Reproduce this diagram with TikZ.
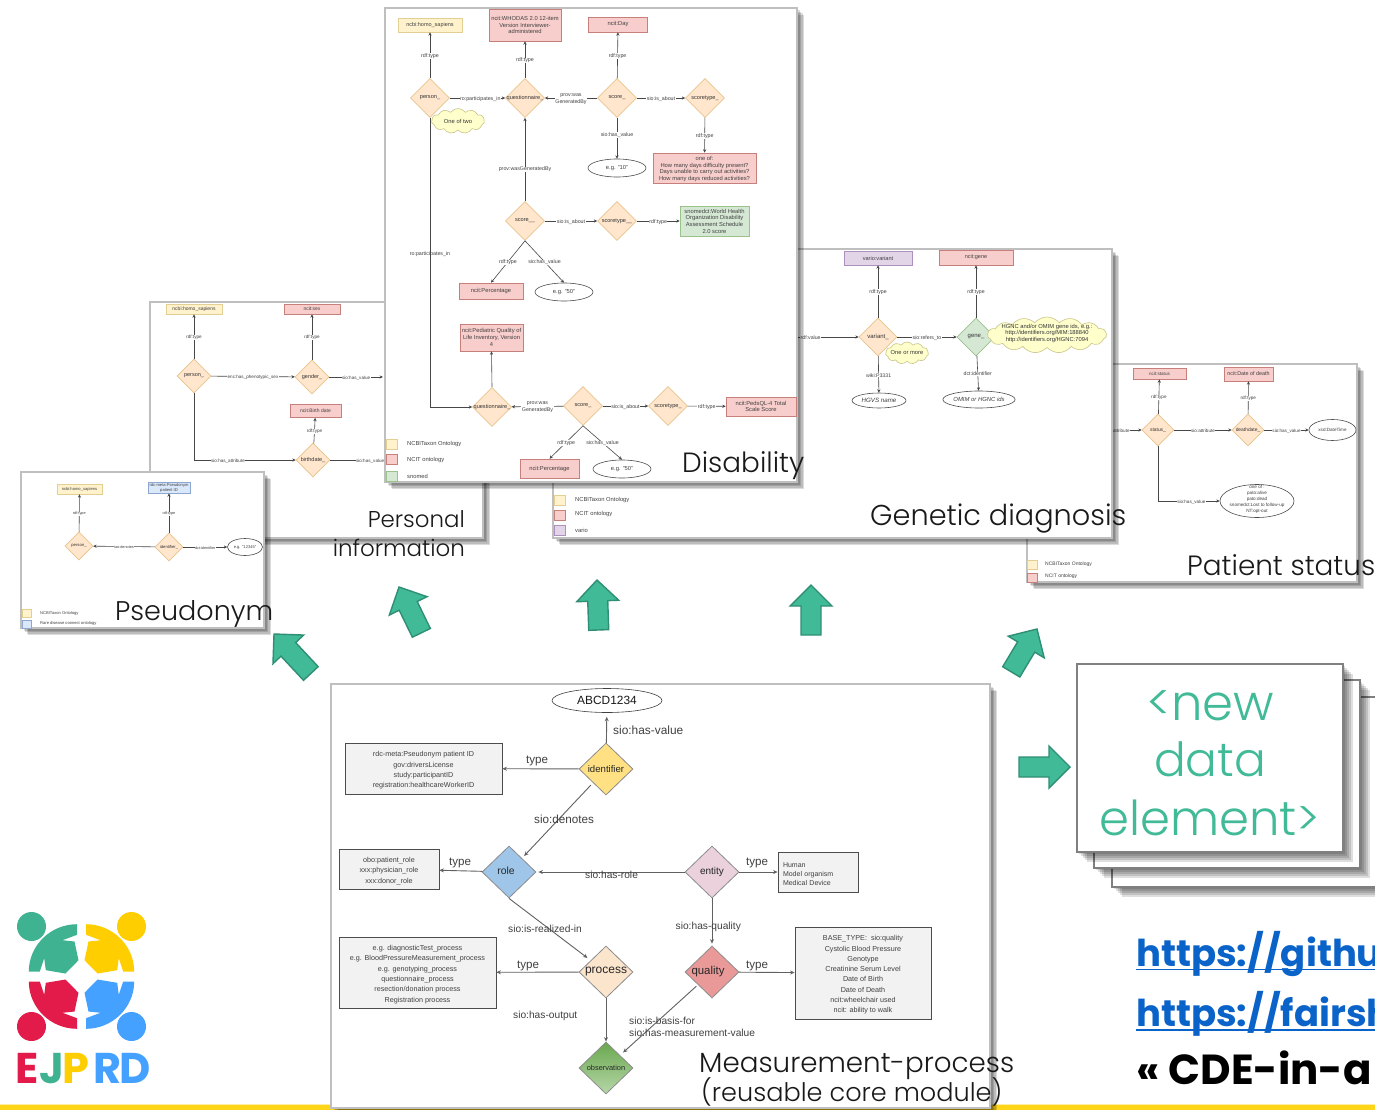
\documentclass[tikz,border=0pt]{standalone}
\usepackage{fontspec}
\usepackage{graphicx}
\setmainfont{Liberation Sans}
\newfontfamily\gothic{Poppins}[UprightFont=* Light,BoldFont=* Bold]
\usetikzlibrary{arrows.meta,shapes.geometric,shapes.symbols}
\definecolor{yfill}{HTML}{FFF2CC}\definecolor{ydraw}{HTML}{E3CF92}
\definecolor{rfill}{HTML}{F8CECC}\definecolor{rdraw}{HTML}{C77F7C}
\definecolor{gfill}{HTML}{D5E8D4}\definecolor{gdraw}{HTML}{9CC28C}
\definecolor{bfill}{HTML}{DAE8FC}\definecolor{bdraw}{HTML}{8CA8D0}
\definecolor{pfill}{HTML}{E1D5E7}\definecolor{pdraw}{HTML}{AE90BC}
\definecolor{dfill}{HTML}{FFE6CC}\definecolor{ddraw}{HTML}{E8C48E}
\definecolor{cfill}{HTML}{FFFFCC}\definecolor{cdraw}{HTML}{C9C48A}
\definecolor{panelb}{HTML}{BFBFBF}
\definecolor{teal}{HTML}{41BA97}\definecolor{tealb}{HTML}{2F8F75}
\definecolor{lgreen}{HTML}{3FB391}\definecolor{lyellow}{HTML}{FFCE00}
\definecolor{lred}{HTML}{E21B4A}\definecolor{lblue}{HTML}{45A1FF}
\definecolor{urlblue}{HTML}{0A63C9}
\definecolor{barY}{HTML}{FFD51A}
\newcommand\fsz[2]{\fontsize{#1}{#2}\selectfont}
\newcommand\zb[1]{\makebox[0pt]{\raisebox{-.8pt}{#1}}}
\newcommand\zc[1]{\smash{\makebox[0pt]{\begin{tabular}{@{}c@{}}#1\end{tabular}}}}
\newcommand\tp{\rule{0pt}{9pt}}
\newcount\lc
% connector with an edge label
\newcommand\lk[4]{\global\advance\lc 1 \draw[link] (#1) -- node[lbl,pos=#3,name=lab\the\lc]{#4} (#2);}
\newcommand\panel[4]{%
  \foreach \o in {7,5.5,4,2.5}{\fill[black,opacity=.14] (#1+\o,#2+\o) rectangle (#3+\o,#4+\o);}
  \fill[white] (#1,#2) rectangle (#3,#4);
  \draw[panelb,line width=2.4pt] (#1,#2) rectangle (#3,#4);}
\newcommand\card[4]{%
  \foreach \o in {10,8,6,4,2}{\fill[black,opacity=.13] (#1+\o,#2+\o) rectangle (#3+\o,#4+\o);}
  \fill[white] (#1,#2) rectangle (#3,#4);
  \draw[gray,line width=2pt] (#1,#2) rectangle (#3,#4);}
\newcommand\barrow[4]{\begin{scope}[shift={(#1,#2)},rotate=#3]
  \draw[blockarrow] (0,0)--(21,-21)--(21,-10)--(#4,-10)--(#4,10)--(21,10)--(21,21)--cycle;\end{scope}}
\tikzset{
  link/.style={draw=black!72,line width=.6pt,-{Stealth[length=3.4pt,width=3.2pt]}},
  mlink/.style={draw=black!62,line width=.9pt,shorten >=2pt,-{Stealth[length=4.5pt,width=4pt]}},
  lbl/.style={fill=white,inner sep=.4pt,text=black!75,align=center,yshift=-.8pt},
  lbln/.style={inner sep=.4pt,text=black!75,align=center},
  bbx/.style={rectangle,inner sep=0pt,align=center,text=black!75,line width=.6pt},
  ybox/.style={bbx,draw=ydraw,fill=yfill},
  rbox/.style={bbx,draw=rdraw,fill=rfill},
  gbox/.style={bbx,draw=gdraw,fill=gfill},
  bbox/.style={bbx,draw=bdraw,fill=bfill},
  pbox/.style={bbx,draw=pdraw,fill=pfill},
  dia/.style={diamond,aspect=1,inner sep=0pt,draw=ddraw,fill=dfill,line width=.6pt,text=black!80},
  val/.style={ellipse,inner sep=0pt,draw=black!70,fill=white,line width=.6pt,text=black!75,align=center},
  puff/.style={cloud,cloud puffs=11,cloud puff arc=110,aspect=2,inner sep=0pt,draw=cdraw,fill=cfill,line width=.6pt,text=black!80},
  leg/.style={anchor=west,inner sep=0pt,text=black!75},
  boxfont/.style={ybox/.append style={font=#1},rbox/.append style={font=#1},gbox/.append style={font=#1},bbox/.append style={font=#1},pbox/.append style={font=#1},val/.append style={font=#1},puff/.append style={font=#1},leg/.append style={font=#1}},
  diafont/.style={dia/.append style={font=#1}},
  blockarrow/.style={fill=teal,draw=tealb,line width=1.4pt,line join=miter},
  ttl/.style={anchor=base west,inner sep=0pt,font=\gothic,text=black!90},
  mbox/.style={rectangle,inner sep=0pt,draw=black!70,fill=black!5,line width=.8pt,align=center,text=black!75,font=\fsz{7.2}{10.3}},
  mdia/.style={diamond,aspect=1,inner sep=0pt,draw=black!45,line width=.8pt,minimum width=54pt,minimum height=52pt,text=black!85},
  mlab/.style={inner sep=0pt,text=black!75,font=\fsz{10.2}{12.2}},
  mtype/.style={mlab,font=\fsz{11.6}{13}},
  logotext/.style={anchor=base,inner sep=0pt,font=\gothic\bfseries\fsz{43}{43}},
}
\begin{document}
\begin{tikzpicture}[x=1pt,y=-1pt]
\useasboundingbox (0,0) rectangle (1375,1110);
\clip (0,0) rectangle (1375,1110);
\fill[white] (0,0) rectangle (1375,1110);
% bottom bar
\fill[barY] (0,1105) rectangle (1375,1110);
\fill[barY!40] (0,1103.8) rectangle (1375,1105);
% logo
\foreach \sx/\sy/\c in {1/1/lgreen,-1/1/lyellow,1/-1/lred,-1/-1/lblue}{
\begin{scope}[shift={(81.5,976.5)},xscale=\sx,yscale=\sy]
  \fill[\c] (-4.5,-52.3) .. controls (-31,-52.3) and (-52.7,-31) .. (-52.7,-5) -- (-41.7,-5) -- (-37.3,-18.3) -- (-35.7,-6.3) -- (-16,-3) -- (-3,-16.3) -- (-7,-35) -- (-19,-36.3) -- (-4.5,-41.7) -- cycle;
  \fill[\c] (-50,-50) circle (14.5pt);
\end{scope}}
\node[logotext,text=lred] (lgE) at (27,1083) {E};
\node[logotext,text=lgreen] (lgJ) at (51.5,1083) {J};
\node[logotext,text=lyellow] (lgP) at (75.5,1083) {P};
\node[logotext,text=lblue] (lgR) at (108,1083) {R};
\node[logotext,text=lblue] (lgD) at (135,1083) {D};

%%%%%%% Patient status
\panel{1027}{364}{1357}{582}
\begin{scope}[font=\fsz{4.6}{6},boxfont={\fsz{4.6}{6}},diafont={\fsz{4.9}{6}}]
\node[rbox,minimum width=53pt,minimum height=11pt] (stS) at (1159.5,373.5) {ncit:status};
\node[rbox,minimum width=49pt,minimum height=14pt,font=\fsz{5.4}{6}] (stD) at (1248.5,374) {ncit:Date of death};
\node[dia,minimum width=32pt,minimum height=32pt] (st) at (1158,430) {\zb{status\_}};
\node[dia,minimum width=32pt,minimum height=32pt] (dd) at (1248,430) {\zb{deathdate\_}};
\node[val,minimum width=47pt,minimum height=21pt] (xsd) at (1332.5,430) {xsd:DateTime};
\node[val,minimum width=74pt,minimum height=33pt] (oneof) at (1257,501) {\zc{one of :\\pato:alive\\pato:dead\\snomedct:Lost to follow-up\\NT:opt-out}};
\coordinate (stIn) at (1090,430);
\lk{stIn}{st}{.44}{sio:has\_attribute}
\lk{st}{stS}{.5}{rdf:type}
\lk{dd}{stD}{.5}{rdf:type}
\lk{st}{dd}{.5}{sio:attribute}
\lk{dd}{xsd}{.5}{sio:has\_value}
\draw[link] (st.south) |- node[lbl,pos=.77,name=stv]{sio:has\_value} (oneof.west);
\node[ybox,minimum width=10pt,minimum height=9pt] (stL1) at (1032,564.5) {};
\node[rbox,minimum width=10pt,minimum height=9pt] (stL2) at (1032,577.5) {};
\node[leg,font=\fsz{5}{6}] (stT1) at (1045,564) {NCBITaxon Ontology};
\node[leg,font=\fsz{5}{6}] (stT2) at (1045,576) {NCIT ontology};
\end{scope}
\node[ttl] (tPat) at (1187,575) {\resizebox{188pt}{!}{Patient status}};

%%%%%%% Genetic diagnosis
\panel{553}{249}{1112}{538}
\begin{scope}[font=\fsz{5.2}{6.6},boxfont={\fsz{5.8}{6.8}},diafont={\fsz{6}{7}}]
\node[pbox,minimum width=68pt,minimum height=14pt,font=\fsz{5.6}{7}] (gV) at (878,258) {vario:variant};
\node[rbox,minimum width=74pt,minimum height=15pt,font=\fsz{5.5}{7}] (gG) at (976,257.5) {ncit:gene};
\node[dia,minimum width=38pt,minimum height=38pt] (var) at (878,337) {\zb{variant\_}};
\node[dia,draw=gdraw,fill=gfill,minimum width=38pt,minimum height=38pt] (gene) at (976,337) {\zb{gene\_}};
\node[val,minimum width=54pt,minimum height=15pt,font=\fsz{6.2}{7}\itshape] (hgvs) at (879,400.5) {HGVS name};
\node[val,minimum width=54pt,minimum height=17pt,font=\fsz{5.9}{7}\itshape] (omim) at (979,399.5) {OMIM or HGNC ids};
\coordinate (gIn) at (790,337);
\lk{gIn}{var}{.3}{rdf:value}
\lk{var}{gV}{.5}{rdf:type}
\lk{gene}{gG}{.5}{rdf:type}
\lk{var}{gene}{.5}{sio:refers\_to}
\lk{var}{hgvs}{.5}{wiki:P3331}
\lk{gene}{omim}{.5}{dct:identifier}
\node[puff,minimum width=43pt,minimum height=22pt] (gC1) at (907,353) {\zb{One or more}};
\node[puff,cloud puffs=15,cloud puff arc=100,aspect=3.3,minimum width=119pt,minimum height=36pt] (gC2) at (1047,335) {\zc{HGNC and/or OMIM gene ids, e.g.:\\http://identifiers.org/MIM:188840\\http://identifiers.org/HGNC:7094}};
\node[ybox,minimum width=11pt,minimum height=10pt] (gL1) at (560,500) {};
\node[rbox,minimum width=11pt,minimum height=10pt] (gL2) at (560,515) {};
\node[pbox,minimum width=11pt,minimum height=10pt] (gL3) at (560,530) {};
\node[leg] (gT1) at (575,500) {NCBITaxon Ontology};
\node[leg] (gT2) at (575,514) {NCIT ontology};
\node[leg] (gT3) at (575,530) {vario};
\end{scope}
\node[ttl] (tGen) at (870,525) {\resizebox{256pt}{!}{Genetic diagnosis}};

%%%%%%% Personal information
\panel{150}{302}{483}{538}
\begin{scope}[font=\fsz{4.6}{6},boxfont={\fsz{5}{6}},diafont={\fsz{5.5}{6.5}}]
\node[ybox,minimum width=56pt,minimum height=10pt] (peN) at (194,309) {ncbi:homo\_sapiens};
\node[rbox,minimum width=56pt,minimum height=10pt] (peS) at (312,309) {ncit:sex};
\node[rbox,minimum width=51pt,minimum height=13pt] (peB) at (315.5,411) {ncit:Birth date};
\node[dia,minimum width=34pt,minimum height=34pt] (pep) at (194,376) {\zb{person\_}};
\node[dia,minimum width=34pt,minimum height=34pt] (peg) at (312,377) {\zb{gender\_}};
\node[dia,minimum width=34pt,minimum height=34pt] (peb) at (313,460) {\zb{birthdate\_}};
\coordinate (peGo) at (383,377);
\coordinate (peBo) at (410,460);
\lk{pep}{peN}{.5}{rdf:type}
\lk{peg}{peS}{.5}{rdf:type}
\lk{peb}{peB}{.5}{rdf:type}
\lk{pep}{peg}{.5}{enc:has\_phenotypic\_sex}
\lk{peg}{peGo}{.5}{sio:has\_value}
\lk{peb}{peBo}{.5}{sio:has\_value}
\draw[link] (pep.south) |- node[lbl,pos=.667,name=pev]{sio:has\_attribute} (peb.west);
\end{scope}
\node[ttl,anchor=base east] (tPer1) at (465,527) {\resizebox{97pt}{!}{Personal}};
\node[ttl,anchor=base east] (tPer2) at (465,556) {\resizebox{132pt}{!}{information}};

%%%%%%% Disability
\panel{385}{8}{797}{482}
\begin{scope}[font=\fsz{5.3}{6.7},boxfont={\fsz{5.8}{6.7}},diafont={\fsz{5.6}{6.7}}]
\node[ybox,minimum width=64pt,minimum height=14pt,font=\fsz{5.5}{6.7}] (dN) at (430,25) {ncbi:homo\_sapiens};
\node[rbox,minimum width=72pt,minimum height=32pt] (dW) at (525,25) {ncit:WHODAS 2.0 12-item\\Version Interviewer-\\administered};
\node[rbox,minimum width=59pt,minimum height=15pt] (dD) at (618,24.5) {ncit:Day};
\node[dia,minimum width=39pt,minimum height=39pt] (dp) at (430,98) {\zb{person\_}};
\node[dia,minimum width=39pt,minimum height=39pt] (dq) at (525,98) {\zb{questionnaire\_}};
\node[dia,minimum width=39pt,minimum height=39pt] (ds) at (617,98) {\zb{score\_}};
\node[dia,minimum width=39pt,minimum height=39pt] (dt) at (705,98) {\zb{scoretype\_}};
\node[val,minimum width=58pt,minimum height=18pt] (dv10) at (617,168) {e.g. "10"};
\node[rbox,minimum width=103pt,minimum height=30pt] (dOne) at (704.5,168) {\rule{0pt}{6.2pt}one of:\\How many days difficulty present?\\Days unable to carry out activities?\\How many days reduced activities?};
\node[dia,minimum width=39pt,minimum height=39pt] (ds2) at (525,221) {\zb{score\_\_}};
\node[dia,minimum width=39pt,minimum height=39pt] (dt2) at (617,221) {\zb{scoretype\_\_}};
\node[gbox,minimum width=69pt,minimum height=30pt] (dSn) at (714.5,221) {snomedct:World Health\\Organization Disability\\Assessment Schedule\\2.0 score};
\node[rbox,minimum width=64pt,minimum height=16pt] (dP1) at (491,291) {ncit:Percentage};
\node[val,minimum width=58pt,minimum height=18pt] (dv50) at (564,292) {e.g. "50"};
\node[rbox,minimum width=63pt,minimum height=27pt] (dPed) at (491.5,337.5) {ncit:Pediatric Quality of\\Life Inventory, Version\\4};
\node[dia,minimum width=39pt,minimum height=39pt] (dq2) at (492,407) {\zb{questionnaire\_}};
\node[dia,minimum width=39pt,minimum height=39pt] (ds3) at (583,406) {\zb{score\_}};
\node[dia,minimum width=39pt,minimum height=39pt] (dt3) at (668,406) {\zb{scoretype\_}};
\node[rbox,minimum width=70pt,minimum height=19pt] (dPeds) at (761,406.5) {ncit:PedsQL-4 Total\\Scale Score};
\node[rbox,minimum width=59pt,minimum height=19pt] (dP2) at (549.5,468.5) {ncit:Percentage};
\node[val,minimum width=58pt,minimum height=18pt] (dv50b) at (622,469) {e.g. "50"};
\lk{dp}{dN}{.5}{rdf:type}
\lk{dq}{dW}{.5}{rdf:type}
\lk{ds}{dD}{.5}{rdf:type}
\lk{dp}{dq}{.55}{ro:participates\_in}
\lk{ds}{dq}{.5}{prov:was\\GeneratedBy}
\lk{ds}{dt}{.5}{sio:is\_about}
\lk{ds}{dv10}{.4}{sio:has\_value}
\lk{dt}{dOne}{.5}{rdf:type}
\lk{ds2}{dq}{.39}{prov:wasGeneratedBy}
\lk{ds2}{dt2}{.5}{sio:is\_about}
\lk{dt2}{dSn}{.5}{rdf:type}
\lk{ds2.south}{dP1.north}{.5}{rdf:type}
\lk{ds2.south}{dv50.north}{.5}{sio:has\_value}
\draw[link] (dq2.north) -- (dPed.south);
\lk{ds3}{dq2}{.5}{prov:was\\GeneratedBy}
\lk{ds3}{dt3}{.5}{sio:is\_about}
\lk{dt3}{dPeds}{.5}{rdf:type}
\lk{ds3.south}{dP2.north}{.5}{rdf:type}
\lk{ds3.south}{dv50b.north}{.5}{sio:has\_value}
\draw[link] (dp.south) |- node[lbln,pos=.236,name=dpart]{ro:participates\_in} (dq2.west);
\node[puff,minimum width=53pt,minimum height=25pt] (dC) at (458,121) {\zb{One of two}};
\node[ybox,minimum width=11pt,minimum height=10pt] (dL1) at (392,444) {};
\node[rbox,minimum width=11pt,minimum height=10pt] (dL2) at (392,459.5) {};
\node[gbox,minimum width=11pt,minimum height=10pt] (dL3) at (392,476) {};
\node[leg] (dT1) at (407,444) {NCBITaxon Ontology};
\node[leg] (dT2) at (407,460) {NCIT ontology};
\node[leg] (dT3) at (407,476) {snomed};
\end{scope}
\node[ttl] (tDis) at (682,472) {\resizebox{122pt}{!}{Disability}};

%%%%%%% Pseudonym
\panel{21}{472}{264}{628}
\begin{scope}[font=\fsz{3.8}{4.9},boxfont={\fsz{4.1}{4.9}},diafont={\fsz{4.2}{5}}]
\node[ybox,minimum width=45pt,minimum height=10pt] (psN) at (79.5,489) {ncbi:homo\_sapiens};
\node[bbox,minimum width=42pt,minimum height=11pt] (psR) at (169,487.5) {rdc-meta:Pseudonym\\patient ID};
\node[dia,minimum width=28pt,minimum height=28pt] (psp) at (79,546) {\zb{person\_}};
\node[dia,minimum width=28pt,minimum height=28pt] (psi) at (169,547) {\zb{identifier\_}};
\node[val,minimum width=35pt,minimum height=17pt] (psv) at (245,547) {e.g. "12345"};
\lk{psp}{psN}{.5}{rdf:type}
\lk{psi}{psR}{.5}{rdf:type}
\lk{psi}{psp}{.5}{iao:denotes}
\lk{psi}{psv}{.5}{dct:identifier}
\node[ybox,minimum width=9pt,minimum height=8pt] (psL1) at (26.5,613) {};
\node[bbox,minimum width=9pt,minimum height=8pt] (psL2) at (26.5,624) {};
\node[leg] (psT1) at (40,613) {NCBITaxon Ontology};
\node[leg] (psT2) at (40,623) {Rare disease connect ontology};
\end{scope}
\node[ttl] (tPse) at (115,620) {\resizebox{158pt}{!}{Pseudonym}};

%%%%%%% block arrows
\barrow{274}{634}{-47}{54}
\barrow{399}{587}{-64}{51}
\barrow{597}{580}{-88}{50}
\barrow{811}{585}{-90}{50}
\barrow{1037}{629}{-121}{50}
\barrow{1070}{767}{180}{51}

%%%%%%% Measurement process
\panel{331}{684}{990}{1108}
\node[val,draw=black!75,minimum width=110pt,minimum height=24pt,font=\fsz{11.9}{13},text=black!90] (mAb) at (607,700.5) {ABCD1234};
\node[mdia,fill={rgb,255:red,255;green,224;blue,130},font=\fsz{9.6}{11}] (mId) at (606,769) {\zb{identifier}};
\node[mdia,fill={rgb,255:red,159;green,197;blue,232},font=\fsz{10.4}{12}] (mRo) at (509,872) {\zb{\raisebox{2pt}{role}\hspace{6pt}}};
\node[mdia,fill={rgb,255:red,252;green,229;blue,205},font=\fsz{12}{14}] (mPr) at (606,972) {\zb{process}};
\node[mdia,top color={rgb,255:red,106;green,168;blue,79},bottom color={rgb,255:red,182;green,215;blue,168},font=\fsz{7.4}{9}] (mOb) at (606,1068) {\zb{observation}};
\node[mdia,fill={rgb,255:red,234;green,209;blue,220},font=\fsz{10}{12}] (mEn) at (712,872) {\zb{entity}};
\node[mdia,fill={rgb,255:red,234;green,153;blue,153},font=\fsz{11.4}{13}] (mQu) at (712,972) {\zb{\hspace{-8pt}quality}};
\node[mbox,minimum width=157pt,minimum height=51pt] (mB1) at (423.5,768.5) {\tp rdc-meta:Pseudonym patient ID\\gov:driversLicense\\study:participantID\\registration:healthcareWorkerID};
\node[mbox,minimum width=100pt,minimum height=40pt] (mB2) at (389,869) {\tp obo:patient\_role\\xxx:physician\_role\\xxx:donor\_role};
\node[mbox,minimum width=157pt,minimum height=71pt] (mB3) at (417.5,972.5) {\tp e.g. diagnosticTest\_process\\e.g. BloodPressureMeasurement\_process\\e.g. genotyping\_process\\questionnaire\_process\\resection/donation process\\Registration process};
\node[mbox,minimum width=80pt,minimum height=40pt,text width=70pt,align=left,font=\fsz{7}{9}] (mB4) at (818,872) {\tp Human\\Model organism\\Medical Device};
\node[mbox,minimum width=136pt,minimum height=92pt] (mB5) at (863,973) {\tp BASE\_TYPE:\ \ sio:quality\\Cystolic Blood Pressure\\Genotype\\Creatinine Serum Level\\Date of Birth\\Date of Death\\ncit:wheelchair used\\ncit: ability to walk};
\draw[mlink,shorten >=4pt] (mId) -- (mAb);
\draw[mlink,shorten >=0pt] (mId) -- (mB1);
\draw[mlink,shorten >=3pt,shorten <=3pt] (mId) -- (mRo);
\draw[mlink,shorten >=0pt] (mRo) -- (mB2);
\draw[mlink] (mEn) -- (mRo);
\draw[mlink,shorten >=4pt] (mRo.south) -- (mPr);
\draw[mlink,shorten >=0pt] (mPr) -- (mB3);
\draw[mlink,shorten >=0pt] (mPr) -- (mOb);
\draw[mlink,shorten >=0pt] (mEn) -- (mB4);
\draw[mlink] (mEn) -- (mQu);
\draw[mlink,shorten >=0pt] (mQu) -- (mB5);
\draw[mlink,shorten >=4pt,shorten <=2pt] (mQu) -- (mOb);
\node[mlab,anchor=west,font=\fsz{11.9}{13}] (ml1) at (613,730) {sio:has-value};
\node[mtype,anchor=west] (ml2) at (526,761) {type};
\node[mlab,anchor=west,font=\fsz{11.7}{13}] (ml3) at (534,819) {sio:denotes};
\node[mtype,anchor=west] (ml4) at (449,863) {type};
\node[mlab,anchor=west] (ml5) at (585,875) {sio:has-role};
\node[mtype,anchor=west] (ml6) at (746,863) {type};
\node[mlab,anchor=west] (ml7) at (675.5,927) {sio:has-quality};
\node[mtype,anchor=west] (ml8) at (746,966) {type};
\node[mlab,anchor=west] (ml9) at (508,929) {sio:is-realized-in};
\node[mtype,anchor=west] (ml10) at (517,966) {type};
\node[mlab,anchor=west] (ml11) at (513,1016) {sio:has-output};
\node[mlab,anchor=west,align=left] (ml12) at (629,1026.5) {sio:is-basis-for\\sio:has-measurement-value};
\node[ttl] (tMe1) at (699,1072) {\resizebox{315pt}{!}{Measurement-process}};
\node[ttl] (tMe2) at (701,1101) {\resizebox{301pt}{!}{(reusable core module)}};

%%%%%%% new data element cards
\card{1112}{697}{1400}{887}
\card{1094}{680}{1360}{868}
\card{1077}{664}{1343}{852}
\node[ttl,anchor=base,text=teal] (nd1) at (1210,720) {\resizebox{128pt}{!}{<new}};
\node[ttl,anchor=base,text=teal] (nd2) at (1210,776) {\resizebox{112pt}{!}{data}};
\node[ttl,anchor=base,text=teal] (nd3) at (1210,835) {\resizebox{221pt}{!}{element>}};

%%%%%%% links
\node[ttl,font=\gothic\bfseries\fsz{37}{40},text=urlblue] (u1) at (1136,966) {https://githu};
\draw[urlblue,line width=1.6pt] (1136,969.5) -- (1375,969.5);
\node[ttl,font=\gothic\bfseries\fsz{37}{40},text=urlblue] (u2) at (1136,1026) {https://fairsh};
\draw[urlblue,line width=1.6pt] (1136,1030) -- (1375,1030);
\node[ttl,font=\gothic\bfseries\fsz{42}{44},text=black] (u3) at (1136,1084) {« CDE-in-a};
\end{tikzpicture}
\end{document}
